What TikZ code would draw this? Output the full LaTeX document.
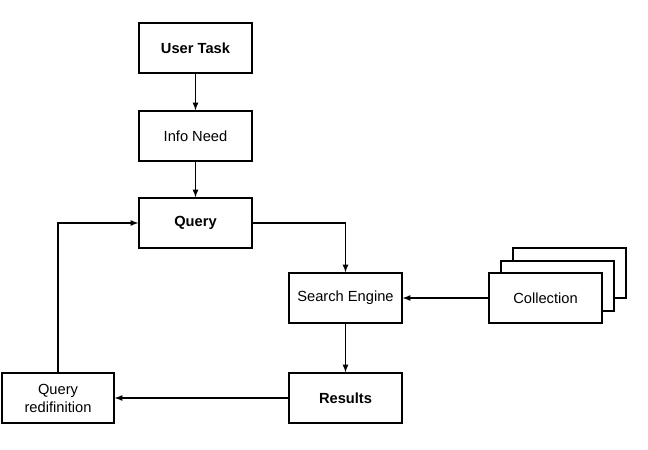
\documentclass[tikz,border=0pt]{standalone}
\usepackage{fontspec}
\setmainfont{Liberation Sans}
\usetikzlibrary{arrows}

\begin{document}
\begin{tikzpicture}[x=0.75pt, y=-0.75pt]
  \tikzstyle{box} = [draw, fill=white, line width=1pt, minimum width=84.75pt,
  minimum height=37.5pt, inner sep=1pt, align=center, font=\fontsize{11}{13.5}\selectfont]
  \tikzstyle{bbox} = [box, font=\fontsize{11}{13.5}\selectfont\bfseries]
  \tikzstyle{conn} = [-latex, line width=1pt]

  \useasboundingbox (0,0) rectangle (648,449);

  \node[bbox] (usertask) at (195.5,48) {User Task};
  \node[box] (infoneed) at (195.5,136) {Info Need};
  \node[bbox] (query) at (195.5,223) {Query};
  \node[box] (search) at (345.5,298) {Search Engine};
  \node[bbox] (results) at (345.5,398) {Results};
  \node[box, minimum width=84pt] (redef) at (58,398) {Query\\redifinition};

  % stacked collection boxes, back to front
  \node[box] (coll3) at (569.5,273) {};
  \node[box] (coll2) at (557.5,286) {};
  \node[box] (coll) at (545.5,298) {Collection};

  \draw[conn] (usertask) -- (infoneed);
  \draw[conn] (infoneed) -- (query);
  \draw[conn] (query.east) -| (search.north);
  \draw[conn] (coll) -- (search);
  \draw[conn] (search) -- (results);
  \draw[conn] (results) -- (redef);
  \draw[conn] (redef.north) |- (query.west);

\end{tikzpicture}
\end{document}
